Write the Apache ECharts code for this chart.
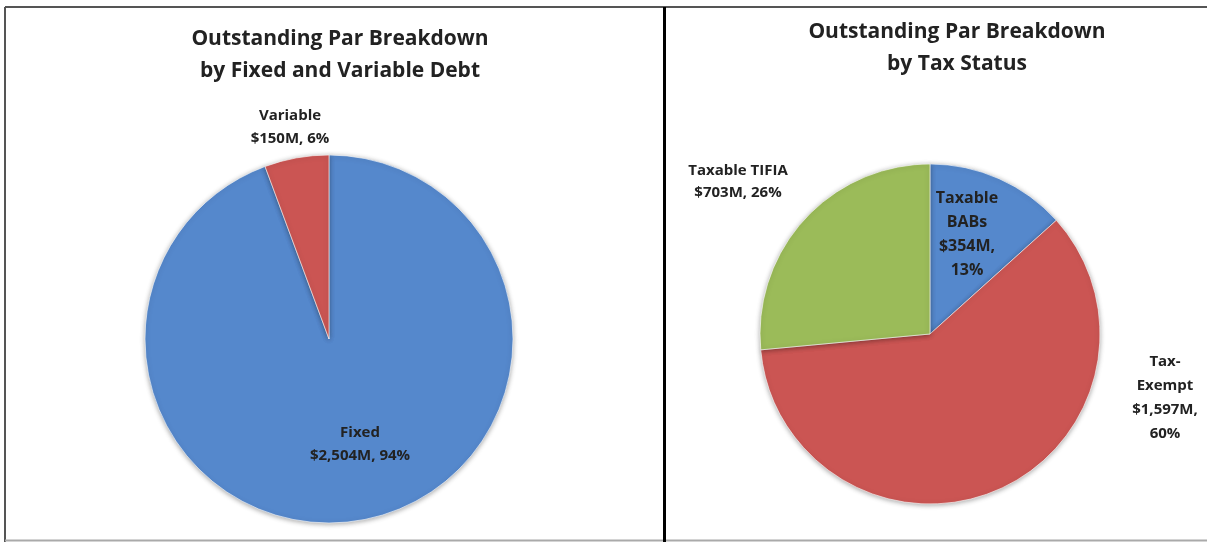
<!DOCTYPE html>
<html>
<head>
<meta charset="utf-8">
<script src="https://cdn.jsdelivr.net/npm/echarts@6/dist/echarts.min.js"></script>
<style>
  html, body { margin: 0; padding: 0; background: #fff; }
  #chart { width: 1207px; height: 542px; }
</style>
</head>
<body>
<div id="chart"></div>
<script>
// 左图：固定 / 浮动
const debtTypes = ['Fixed', 'Variable']
const debtPar = [2504, 150]
const debtPct = ['94%', '6%']
// 右图：税务状态
const taxTypes = ['Taxable BABs', 'Tax-Exempt', 'Taxable TIFIA']
const taxPar = [354, 1597, 703]
const taxPct = ['13%', '60%', '26%']
const taxLabelText = ['Taxable\nBABs\n$354M,\n13%', 'Tax-\nExempt\n$1,597M,\n60%', 'Taxable TIFIA\n$703M, 26%']

const blue = '#5588cc'
const red = '#cb5553'
const green = '#9bbb59'

// 标签中心位置（像素）
const debtLabelPos = [[360, 444], [290, 127]]
const taxLabelPos = [[967, 234], [1165, 398], [738, 182]]

function money(v) {
  return '$' + v.toLocaleString('en-US') + 'M'
}

const font = '"Open Sans", Lato, sans-serif'

let myChart = echarts.init(document.getElementById('chart'))

const sliceStyle = {
  borderColor: 'rgba(255,255,255,0.6)',
  borderWidth: 1,
  shadowBlur: 5,
  shadowColor: 'rgba(0,0,0,0.35)',
  shadowOffsetY: 1
}

function placeAt(list) {
  return function (params) {
    const p = list[params.dataIndex]
    return { x: p[0], y: p[1], align: 'center', verticalAlign: 'middle' }
  }
}

myChart.setOption({
  backgroundColor: '#fff',
  animation: false,
  title: [{
    text: 'Outstanding Par Breakdown\nby Fixed and Variable Debt',
    left: 335,
    top: 18,
    textAlign: 'center',
    textStyle: { fontFamily: font, fontSize: 21, fontWeight: 'bold', color: '#222', lineHeight: 32 }
  }, {
    text: 'Outstanding Par Breakdown\nby Tax Status',
    left: 952,
    top: 11,
    textAlign: 'center',
    textStyle: { fontFamily: font, fontSize: 21, fontWeight: 'bold', color: '#222', lineHeight: 32 }
  }],
  graphic: [
    { type: 'line', shape: { x1: 5, y1: 7, x2: 1207, y2: 7 }, style: { stroke: '#555', lineWidth: 2 } },
    { type: 'line', shape: { x1: 5, y1: 7, x2: 5, y2: 542 }, style: { stroke: '#555', lineWidth: 2 } },
    { type: 'line', shape: { x1: 5, y1: 540.5, x2: 1207, y2: 540.5 }, style: { stroke: '#aaa', lineWidth: 2 } },
    { type: 'line', shape: { x1: 664.5, y1: 7, x2: 664.5, y2: 542 }, style: { stroke: '#000', lineWidth: 3 } }
  ],
  series: [{
    type: 'pie',
    center: [329, 339],
    radius: 184,
    startAngle: 90,
    clockwise: true,
    itemStyle: sliceStyle,
    label: {
      fontFamily: font, fontSize: 15, fontWeight: 'bold', color: '#222', lineHeight: 23, align: 'center'
    },
    labelLine: { show: false },
    labelLayout: placeAt(debtLabelPos),
    data: debtTypes.map((name, i) => ({
      name: name,
      value: debtPar[i],
      itemStyle: { color: [blue, red][i] },
      label: {
        position: i === 0 ? 'inside' : 'outside',
        formatter: name + '\n' + money(debtPar[i]) + ', ' + debtPct[i]
      }
    }))
  }, {
    type: 'pie',
    center: [930, 334],
    radius: 170,
    startAngle: 90,
    clockwise: true,
    itemStyle: sliceStyle,
    label: {
      fontFamily: font, fontSize: 15, fontWeight: 'bold', color: '#222', lineHeight: 24
    },
    labelLine: { show: false },
    labelLayout: placeAt(taxLabelPos),
    data: taxTypes.map((name, i) => ({
      name: name,
      value: taxPar[i],
      itemStyle: { color: [blue, red, green][i] },
      label: {
        position: i === 0 ? 'inside' : 'outside',
        formatter: taxLabelText[i],
        align: i === 2 ? 'left' : 'center',
        fontSize: i === 0 ? 16 : 15,
        lineHeight: i === 2 ? 22 : 24
      }
    }))
  }]
})
</script>
</body>
</html>
